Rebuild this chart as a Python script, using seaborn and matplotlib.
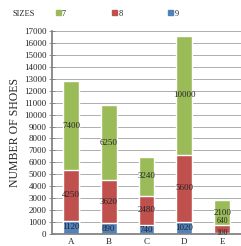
import matplotlib
matplotlib.use("Agg")
import matplotlib.pyplot as plt
import matplotlib.patches as mpatches
import seaborn as sns
import pandas as pd
import numpy as np

# Shoe sales by brand and size
brands = ["A", "B", "C", "D", "E"]
size9 = [1120, 890, 740, 1020, 100]
size8 = [4250, 3620, 2480, 5600, 640]
size7 = [7400, 6250, 3240, 10000, 2100]

col7 = "#9bbb59"
col8 = "#c0504d"
col9 = "#4f81bd"

sns.set_theme(style="white")
plt.rcParams["font.family"] = ["Liberation Serif", "DejaVu Serif"]

df = pd.DataFrame({"brand": brands, "s9": size9, "s8": size8, "s7": size7})
df["top8"] = df["s9"] + df["s8"]
df["top7"] = df["top8"] + df["s7"]

fig = plt.figure(figsize=(2.41, 2.46), dpi=100)
ax = fig.add_axes([0.216, 0.049, 0.784, 0.825])

# stacked bars: draw the tallest first, then overlay the lower parts
sns.barplot(data=df, x="brand", y="top7", color=col7, width=0.42, ax=ax, saturation=1)
sns.barplot(data=df, x="brand", y="top8", color=col8, width=0.42, ax=ax, saturation=1)
sns.barplot(data=df, x="brand", y="s9", color=col9, width=0.42, ax=ax, saturation=1)

# segment labels
for i in range(len(brands)):
    b9, b8, b7 = size9[i], size8[i], size7[i]
    ax.text(i, b9 / 2, str(b9), ha="center", va="center", fontsize=6.5 if b9 > 400 else 5.5)
    if b8 < 1000:
        # short segment: sit the label on top of the blue part
        ax.text(i, b9 + b8, str(b8), ha="center", va="bottom", fontsize=5.5)
    else:
        ax.text(i, b9 + b8 / 2, str(b8), ha="center", va="center", fontsize=6.5)
    ax.text(i, b9 + b8 + b7 / 2, str(b7), ha="center", va="center", fontsize=6.5)

ax.set_ylim(0, 17000)
ax.set_xlim(-0.5, 4.5)
ax.set_yticks(np.arange(0, 17001, 1000))
ax.tick_params(axis="y", labelsize=6.5, length=5, direction="inout", pad=1.5,
               left=True, color="#808080", width=0.6)
ax.tick_params(axis="x", labelsize=6.5, length=0, pad=3)
ax.yaxis.grid(True, color="#a0a0a0", linewidth=0.6)
ax.set_axisbelow(True)
for s in ["top", "right"]:
    ax.spines[s].set_visible(False)
ax.spines["left"].set_color("#808080")
ax.spines["bottom"].set_color("#808080")
ax.set_xlabel("")
ax.set_ylabel("NUMBER OF SHOES", fontsize=8.5, labelpad=2)

fig.text(0.05, 0.945, "SIZES", fontsize=6, ha="left", va="center")
handles = [mpatches.Patch(color=col7),
           mpatches.Patch(color=col8),
           mpatches.Patch(color=col9)]
fig.legend(handles, ["7", "8", "9"], ncol=3, loc="center left",
           bbox_to_anchor=(0.2, 0.945), frameon=False, fontsize=6,
           handlelength=0.6, handleheight=0.6, handletextpad=0.15, columnspacing=5.5)

fig.savefig("out.png", dpi=100)
